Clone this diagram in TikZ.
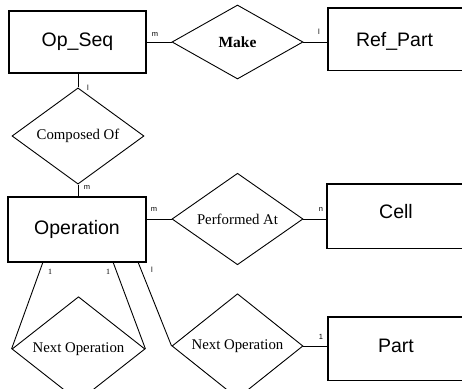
\documentclass[tikz,border=0pt]{standalone}
\usepackage{fontspec}
\setmainfont{Liberation Serif}
\setsansfont{Liberation Sans}
\usetikzlibrary{shapes.geometric}
\begin{document}
\begin{tikzpicture}[x=1pt,y=-1pt,
  entbox/.style={draw, line width=1.4pt, rectangle, inner sep=0pt},
  openbox/.style={rectangle, inner sep=0pt},
  boxline/.style={line width=1.4pt},
  enttext/.style={font=\sffamily\fontsize{19.5}{20}\selectfont, inner sep=0pt},
  rel/.style={draw, line width=0.9pt, shape=diamond, inner sep=0pt,
    font=\fontsize{14.8}{16}\selectfont},
  card/.style={font=\sffamily\fontsize{7.5}{8}\selectfont, inner sep=0pt},
  conn/.style={line width=0.9pt}]
\useasboundingbox (0,0) rectangle (462,388);
\clip (0,0) rectangle (462,388);
\fill[white] (0,0) rectangle (462,388);

% entities
\node[entbox, minimum width=137, minimum height=62, enttext] (os) at (77.5,42) {Op\_Seq};
\node[entbox, minimum width=138, minimum height=65, enttext] (op) at (77,229.5) {Operation};
\node[openbox, minimum width=160, minimum height=62, anchor=north west] (rp) at (328,8) {};
\node[enttext] (rpt) at (394.5,41) {Ref\_Part};
\node[openbox, minimum width=160, minimum height=64, anchor=north west] (ce) at (327,184) {};
\node[enttext] (cet) at (396,212) {Cell};
\node[openbox, minimum width=160, minimum height=63, anchor=north west] (pa) at (328,317) {};
\node[enttext] (pat) at (396,346) {Part};
\foreach \b in {rp,ce,pa}
  \draw[boxline] (\b.north east) -- (\b.north west) -- (\b.south west) -- (\b.south east);

% relationships
\node[rel, minimum width=131, minimum height=74, font=\bfseries\fontsize{15.5}{16}\selectfont] (mk) at (237.5,42) {Make};
\node[rel, minimum width=132, minimum height=74] (co) at (78,136) {Composed Of};
\node[rel, minimum width=131, minimum height=74] (pf) at (237.5,219) {Performed At};
\node[rel, minimum width=133, minimum height=76] (n1) at (78.5,349) {Next Operation};
\node[rel, minimum width=131, minimum height=74] (n2) at (237.5,346) {Next Operation};

% connector end points on Operation's lower edge
\coordinate (ob1) at (43,262);
\coordinate (ob2) at (113,262);
\coordinate (ob3) at (138,262);

% connectors
\draw[conn] (mk.west) -- (mk.west -| os.east);
\draw[conn] (mk.east) -- (mk.east -| rp.west);
\draw[conn] (co.north) -- (co.north |- os.south);
\draw[conn] (co.south) -- (co.south |- op.north);
\draw[conn] (pf.west) -- (pf.west -| op.east);
\draw[conn] (pf.east) -- (pf.east -| ce.west);
\draw[conn] (ob1) -- (n1.west);
\draw[conn] (ob2) -- (n1.east);
\draw[conn] (ob3) -- (n2.west);
\draw[conn] (n2.east) -- (n2.east -| pa.west);

% cardinalities
\node[card] (c1) at (155,34) {m};
\node[card] (c2) at (319,32) {l};
\node[card] (c3) at (88,88) {l};
\node[card] (c4) at (87,187) {m};
\node[card] (c5) at (154,209) {m};
\node[card] (c6) at (321,209) {n};
\node[font=\fontsize{8}{9}\selectfont, inner sep=0pt] (c7) at (50,272) {1};
\node[font=\fontsize{8}{9}\selectfont, inner sep=0pt] (c8) at (108,272) {1};
\node[card] (c9) at (152,270) {l};
\node[card] (c10) at (321,337) {1};
\end{tikzpicture}
\end{document}
